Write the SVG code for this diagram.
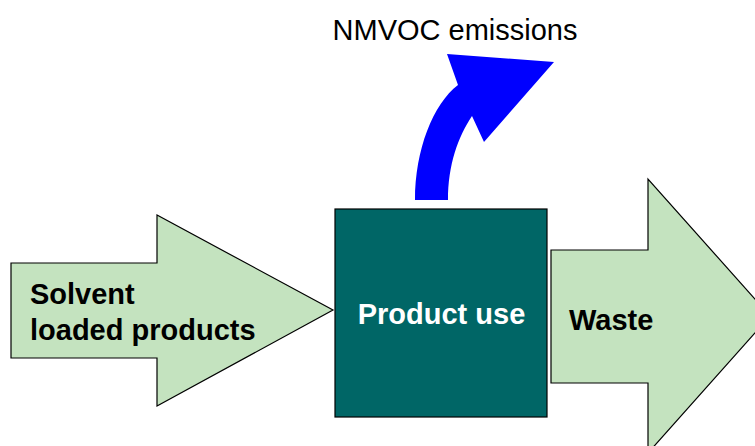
<svg xmlns="http://www.w3.org/2000/svg" width="755" height="446" viewBox="0 0 755 446">
<style>
.flow{fill:#C4E3BF;stroke:#000;stroke-width:1.2;stroke-linejoin:miter}
.lbl{font-family:"Liberation Sans",Arial,sans-serif;font-weight:bold;font-size:29px;fill:#000}
</style>
<rect width="755" height="446" fill="#fff"/>
<g id="connectors">
<path id="input-arrow" class="flow" d="M11,263 L157,263 L157,215 L333,310 L157,406 L157,358 L11,358 Z"/>
<path id="waste-arrow" class="flow" d="M551,250 L648,250 L648,179 L770,316 L648,453 L648,383 L551,383 Z"/>
<path id="emission-arrow" fill="#0000FF" d="M415,200 C415,150 433,104 458,85 L447,54 L554,62 L484,142 L472,116 C458,137 448,165 448,200 Z"/>
</g>
<g id="input-label">
<text class="lbl" x="30" y="304">Solvent</text>
<text class="lbl" x="30" y="340">loaded products</text>
</g>
<g id="product-use">
<rect x="335" y="209" width="212" height="208" fill="#006666" stroke="#000" stroke-width="1.2"/>
<text class="lbl" x="441.5" y="324" text-anchor="middle" fill="#fff" style="fill:#fff">Product use</text>
</g>
<g id="waste">
<text class="lbl" x="569" y="330">Waste</text>
</g>
<g id="emissions">
<text x="455" y="40" text-anchor="middle" font-family="Liberation Sans, Arial, sans-serif" font-size="29" fill="#000">NMVOC emissions</text>
</g>
</svg>
